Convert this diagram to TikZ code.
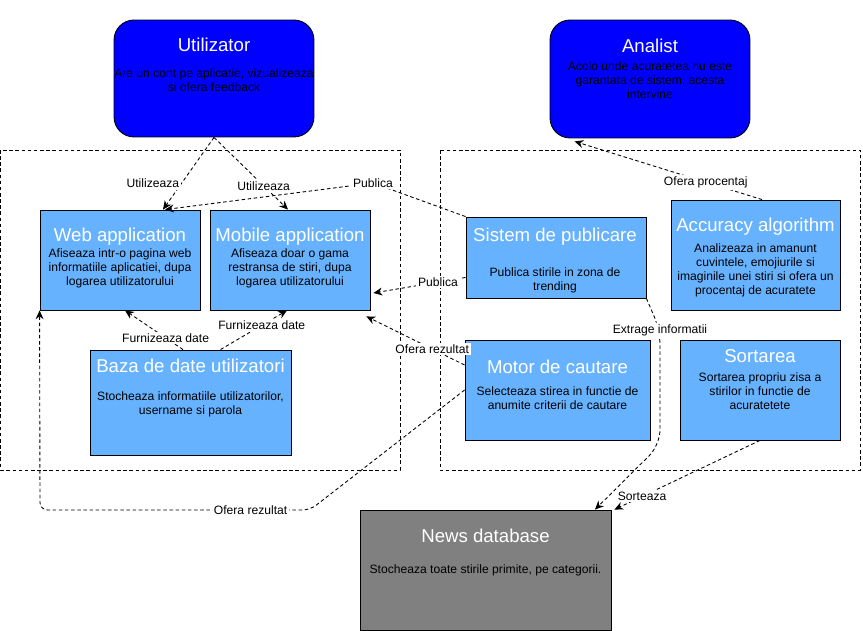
\documentclass[tikz,border=0pt]{standalone}
\usepackage{fontspec}
\setmainfont{Liberation Sans}
\usetikzlibrary{arrows.meta}
\definecolor{albastru}{RGB}{0,0,255}
\definecolor{bleu}{RGB}{102,178,255}
\definecolor{gri}{RGB}{128,128,128}

\begin{document}
\begin{tikzpicture}[x=0.02cm, y=-0.02cm,
    actor/.style={draw, fill=albastru, rounded corners=0.4cm, line width=0.5pt, inner sep=0pt},
    modul/.style={draw, fill=bleu, line width=0.5pt, inner sep=0pt},
    bazadate/.style={draw, fill=gri, line width=0.5pt, inner sep=0pt},
    titlu/.style={text=white, font=\fontsize{10.6}{12}\selectfont, inner sep=0pt},
    descr/.style={align=center, font=\fontsize{6.9}{8}\selectfont, inner sep=0pt},
    eticheta/.style={fill=white, font=\fontsize{6.9}{8}\selectfont, inner sep=1pt},
    legatura/.style={dash pattern=on 2pt off 1.5pt, line width=0.5pt, -{Stealth[length=5pt,width=4.5pt]}},
    cadru/.style={dash pattern=on 2pt off 1.5pt, line width=0.5pt}]
    \useasboundingbox (0,0) rectangle (863,631);

    % Cadre punctate
    \draw[cadru] (0.5,150) rectangle (400,470);
    \draw[cadru] (440,150) rectangle (860,470);

    % Actori
    \node[actor, minimum width=4cm, minimum height=2.34cm] (util) at (214,78.5) {};
    \node[titlu] (utilT) at (214,45) {Utilizator};
    \node[descr] (utilD) at (214,80) {Are un cont pe aplicatie, vizualizeaza\\si ofera feedback};

    \node[actor, minimum width=4cm, minimum height=2.36cm] (anal) at (650,79) {};
    \node[titlu] (analT) at (650,46) {Analist};
    \node[descr] (analD) at (650,80) {Acolo unde acuratetea nu este\\garantata de sistem, acesta\\intervine};

    % Aplicatii
    \node[modul, minimum width=3.2cm, minimum height=2cm] (web) at (120,260) {};
    \node[titlu] (webT) at (120,237) {Web application};
    \node[descr] (webD) at (120,268) {Afiseaza intr-o pagina web\\informatiile aplicatiei, dupa\\logarea utilizatorului};

    \node[modul, minimum width=3.2cm, minimum height=2cm] (mob) at (290,260) {};
    \node[titlu] (mobT) at (290,237) {Mobile application};
    \node[descr] (mobD) at (290,268) {Afiseaza doar o gama\\restransa de stiri, dupa\\logarea utilizatorului};

    \node[modul, minimum width=4.02cm, minimum height=2.1cm] (baza) at (190.5,402.5) {};
    \node[titlu] (bazaT) at (190.5,366) {Baza de date utilizatori};
    \node[descr] (bazaD) at (190.5,404) {Stocheaza informatiile utilizatorilor,\\username si parola};

    % Module de sistem
    \node[modul, minimum width=3.6cm, minimum height=1.62cm] (pub) at (556,257.5) {};
    \node[titlu] (pubT) at (555,237) {Sistem de publicare};
    \node[descr] (pubD) at (555,280) {Publica stirile in zona de\\trending};

    \node[modul, minimum width=3.38cm, minimum height=2.2cm] (acc) at (755.5,255) {};
    \node[titlu] (accT) at (755.5,227) {Accuracy algorithm};
    \node[descr] (accD) at (755.5,270) {Analizeaza in amanunt\\cuvintele, emojiurile si\\imaginile unei stiri si ofera un\\procentaj de acuratete};

    \node[modul, minimum width=3.7cm, minimum height=2cm] (motor) at (557.5,390) {};
    \node[titlu] (motorT) at (557.5,367) {Motor de cautare};
    \node[descr] (motorD) at (557.5,398) {Selecteaza stirea in functie de\\anumite criterii de cautare};

    \node[modul, minimum width=3.2cm, minimum height=2cm] (sort) at (760,390) {};
    \node[titlu] (sortT) at (760,356) {Sortarea};
    \node[descr] (sortD) at (760,391) {Sortarea propriu zisa a\\stirilor in functie de\\acuratetete};

    % Baza de stiri
    \node[bazadate, minimum width=5.02cm, minimum height=2.4cm] (news) at (485.5,570) {};
    \node[titlu] (newsT) at (485.5,536) {News database};
    \node[descr] (newsD) at (485.5,570) {Stocheaza toate stirile primite, pe categorii.};

    % Legaturi
    \draw[legatura] (util.south) -- ([xshift=0.86cm]web.north) node[eticheta, pos=0.64, anchor=east] {Utilizeaza};
    \draw[legatura] (util.south) -- ([xshift=-0.04cm]mob.north) node[eticheta, pos=0.67] {Utilizeaza};
    \draw[legatura] (pub.north west) -- (373,183) node[eticheta] {Publica} -- ([xshift=0.9cm]web.north);
    \draw[legatura] ([yshift=-0.4cm]pub.west) -- ([xshift=0.06cm,yshift=-0.66cm]mob.east) node[eticheta, pos=0.3] {Publica};
    \draw[legatura] ([yshift=0.5cm]motor.west) -- ([xshift=-0.08cm,yshift=-0.12cm]mob.south east) node[eticheta, pos=0.33] {Ofera rezultat};
    \draw[legatura, rounded corners=0.15cm] (motor.west) -- (310,510) -- node[eticheta, pos=0.22] {Ofera rezultat} (40,510) -- (web.south west);
    \draw[legatura] ([xshift=-0.15cm]baza.north) -- ([xshift=0.1cm]web.south) node[eticheta, pos=0.3] {Furnizeaza date};
    \draw[legatura] ([xshift=0.6cm]baza.north) -- ([xshift=-0.06cm]mob.south) node[eticheta, pos=0.62] {Furnizeaza date};
    \draw[legatura] ([xshift=0.13cm]acc.north) -- ([xshift=0.5cm,yshift=-0.06cm]anal.south west) node[eticheta, pos=0.3] {Ofera procentaj};
    \draw[legatura, rounded corners=0.3cm] (pub.south east) -- (660,330) node[eticheta] {Extrage informatii} -- (660,445) -- ([xshift=2.19cm]news.north);
    \draw[legatura] (sort.south) -- ([xshift=0.06cm]news.north east) node[eticheta, pos=0.81] {Sorteaza};

\end{tikzpicture}
\end{document}
